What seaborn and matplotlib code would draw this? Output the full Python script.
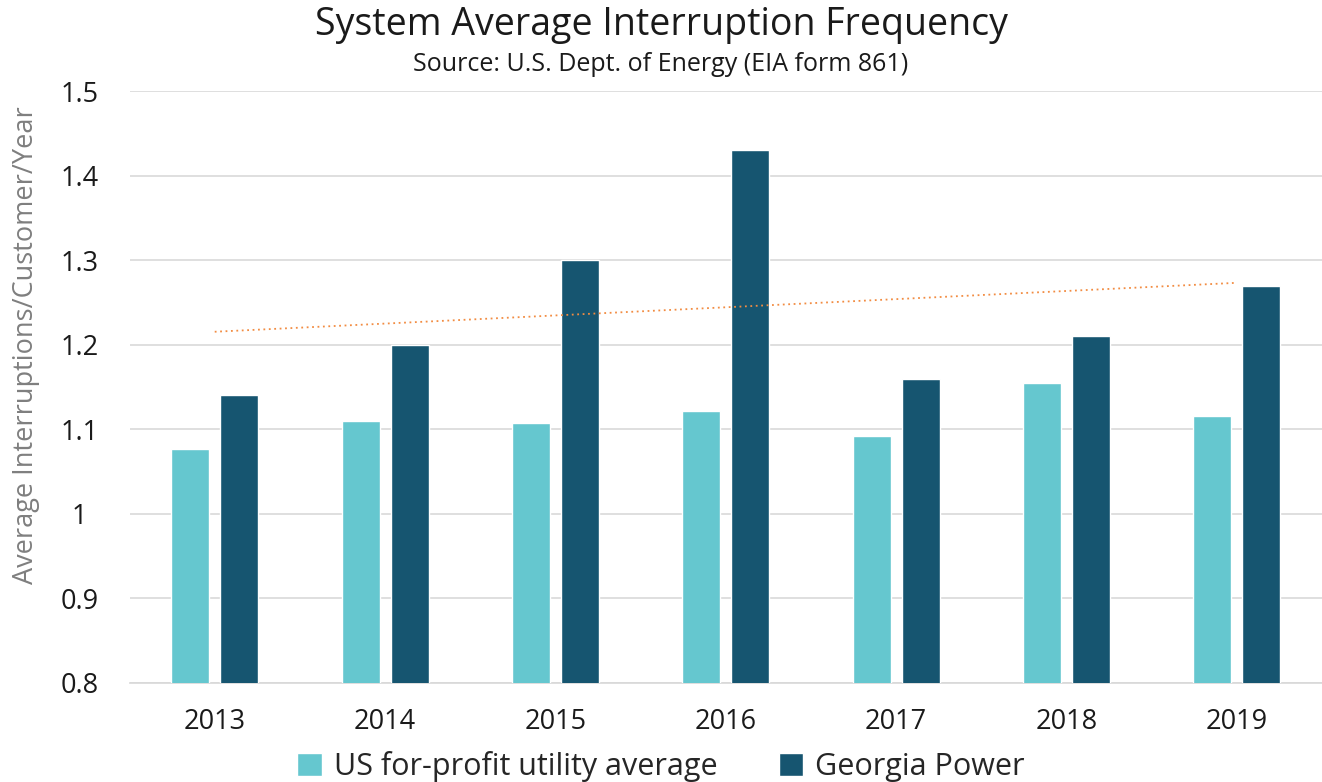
import matplotlib
matplotlib.use("Agg")
import matplotlib.pyplot as plt
from matplotlib.ticker import FuncFormatter
from matplotlib.patches import Patch
import seaborn as sns
import pandas as pd
import numpy as np

years = ["2013", "2014", "2015", "2016", "2017", "2018", "2019"]
us_avg = [1.077, 1.110, 1.107, 1.122, 1.092, 1.155, 1.116]
georgia = [1.14, 1.20, 1.30, 1.43, 1.16, 1.21, 1.27]
series_names = ["US for-profit utility average", "Georgia Power"]
colors = ["#65C7CF", "#165570"]

df = pd.DataFrame({
    "year": years * 2,
    "value": us_avg + georgia,
    "series": [series_names[0]] * len(years) + [series_names[1]] * len(years),
})

sns.set_theme(style="white")
plt.rcParams["font.family"] = ["Open Sans", "DejaVu Sans"]

fig = plt.figure(figsize=(13.22, 7.82), dpi=100)
ax = fig.add_axes([0.098, 0.1266, 0.902, 0.757])

sns.barplot(data=df, x="year", y="value", hue="series", palette=colors, saturation=1,
            width=0.576, gap=0.224, ax=ax, legend=False, zorder=3)

# linear trendline of Georgia Power
xs = np.arange(len(years))
k, b = np.polyfit(xs, georgia, 1)
ax.plot(xs, k * xs + b, linestyle=(0, (1, 2)), color="#F28C42", lw=1.3, zorder=4)

ax.set_ylim(0.8, 1.5)
ax.set_yticks(np.arange(0.8, 1.51, 0.1))
ax.yaxis.set_major_formatter(FuncFormatter(lambda v, p: f"{round(v, 1):g}"))
ax.set_xlim(-0.5, len(years) - 0.5)
ax.grid(axis="y", color="#d9d9d9", lw=1.2, zorder=0)
for s in ["top", "right", "left"]:
    ax.spines[s].set_visible(False)
ax.spines["bottom"].set_color("#d9d9d9")
ax.tick_params(axis="both", length=0, labelsize=19.5, colors="#1a1a1a")
ax.tick_params(axis="x", pad=18)
ax.tick_params(axis="y", pad=36)
for t in ax.get_yticklabels():
    t.set_ha("center")
ax.set_xlabel("")
ax.set_ylabel("")

fig.text(26 / 1322, 1 - 345 / 782, "Average Interruptions/Customer/Year", rotation=90,
         ha="center", va="center", fontsize=19.5, color="#7f7f7f")
fig.text(0.5, 0.968, "System Average Interruption Frequency", ha="center", va="center",
         fontsize=27, color="#1a1a1a")
fig.text(0.5, 0.917, "Source: U.S. Dept. of Energy (EIA form 861)", ha="center", va="center",
         fontsize=18, color="#1a1a1a")

handles = [Patch(facecolor=c, label=n) for c, n in zip(colors, series_names)]
fig.legend(handles=handles, loc="center", bbox_to_anchor=(0.5, 0.02), ncol=2, frameon=False,
           fontsize=22, handlelength=0.8, handleheight=0.8, handletextpad=0.4, columnspacing=2.0)

fig.savefig("out.png", dpi=100)
